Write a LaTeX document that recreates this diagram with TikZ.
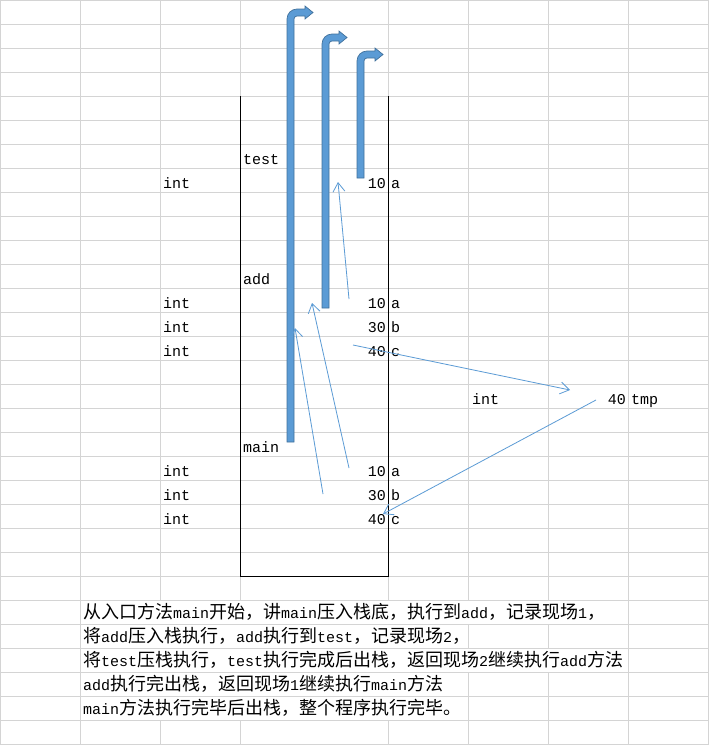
\documentclass[tikz,border=0pt]{standalone}
\usepackage{fontspec}
\setmainfont{Liberation Mono}
\newfontfamily\cjk{Noto Sans CJK SC}
\usetikzlibrary{arrows.meta}
\definecolor{gridc}{HTML}{D4D4D4}
\definecolor{bfill}{HTML}{5B9BD5}
\definecolor{bline}{HTML}{41719C}
\newcommand\bentup[5]{% L B T HB HT
  \filldraw[bent] (#1,#2) -- (#1,{#3+10}) .. controls (#1,{#3+4.5}) and ({#1+4.5},#3) .. ({#1+10},#3)
    -- (#4,#3) -- (#4,{#3-3}) -- (#5,{#3+3.5}) -- (#4,{#3+10}) -- (#4,{#3+7})
    -- ({#1+10},{#3+7}) .. controls ({#1+8.35},{#3+7}) and ({#1+7},{#3+8.35}) .. ({#1+7},{#3+10})
    -- ({#1+7},#2) -- cycle;}
\begin{document}
\begin{tikzpicture}[x=1pt,y=-1pt,
  gridl/.style={draw=gridc,line width=0.8pt},
  bent/.style={fill=bfill,draw=bline,line width=0.7pt},
  thin/.style={draw=bfill,line width=0.8pt,-{Straight Barb[length=9pt,width=12pt]}},
  lbl/.style={inner sep=0pt,anchor=base west,font=\fontsize{15}{15}\selectfont},
  num/.style={inner sep=0pt,anchor=base east,font=\fontsize{15}{15}\selectfont},
  cn/.style={inner sep=0pt,anchor=base west,font=\fontsize{15}{15}\selectfont}]
\useasboundingbox (0,0) rectangle (709,745);
\fill[white] (0,0) rectangle (709,745);
% grid
\foreach \y in {0,24,...,744} \draw[gridl] (0,\y) -- (709,\y);
\foreach \x in {0,80,628,708} \draw[gridl] (\x,0) -- (\x,745);
\foreach \x in {160,240,388} {\draw[gridl] (\x,0) -- (\x,600); \draw[gridl] (\x,720) -- (\x,745);}
\foreach \x in {468,548} {\draw[gridl] (\x,0) -- (\x,600); \draw[gridl] (\x,624) -- (\x,648); \draw[gridl] (\x,672) -- (\x,745);}
% stack box
\draw[black,line width=1pt] (240,96) -- (240,576) -- (388,576) -- (388,96);
% labels
\node[lbl] (test) at (243,164) {test};
\node[lbl] (i1) at (163,188) {int};
\node[num] (n1) at (386,188) {10};
\node[lbl] (v1) at (391,188) {a};
\node[lbl] (add) at (243,284) {add};
\node[lbl] (i2) at (163,308) {int};
\node[num] (n2) at (386,308) {10};
\node[lbl] (v2) at (391,308) {a};
\node[lbl] (i3) at (163,332) {int};
\node[num] (n3) at (386,332) {30};
\node[lbl] (v3) at (391,332) {b};
\node[lbl] (i4) at (163,356) {int};
\node[num] (n4) at (386,356) {40};
\node[lbl] (v4) at (391,356) {c};
\node[lbl] (it) at (472,404) {int};
\node[num] (nt) at (626,404) {40};
\node[lbl] (vt) at (631,404) {tmp};
\node[lbl] (main) at (243,452) {main};
\node[lbl] (i5) at (163,476) {int};
\node[num] (n5) at (386,476) {10};
\node[lbl] (v5) at (391,476) {a};
\node[lbl] (i6) at (163,500) {int};
\node[num] (n6) at (386,500) {30};
\node[lbl] (v6) at (391,500) {b};
\node[lbl] (i7) at (163,524) {int};
\node[num] (n7) at (386,524) {40};
\node[lbl] (v7) at (391,524) {c};
% bent arrows
\bentup{287}{442}{9}{305}{313}
\bentup{322}{308}{34}{339}{347}
\bentup{357}{178}{51}{375}{383}
% thin arrows
\coordinate (s1) at (349,299); \coordinate (e1) at (338,182);
\coordinate (s2) at (349,468); \coordinate (e2) at (312,303);
\coordinate (s3) at (323,494); \coordinate (e3) at (295,328);
\coordinate (s4) at (353,345); \coordinate (e4) at (570,390);
\coordinate (s5) at (596,400); \coordinate (e5) at (383,514);
\draw[thin] (s1) -- (e1);
\draw[thin] (s2) -- (e2);
\draw[thin] (s3) -- (e3);
\draw[thin] (s4) -- (e4);
\draw[thin] (s5) -- (e5);
% description
\newcommand\zh[1]{{\cjk\fontsize{18}{18}\selectfont #1}}
\node[cn] (t1) at (83,618) {\zh{从入口方法}main\zh{开始，讲}main\zh{压入栈底，执行到}add\zh{，记录现场}1\zh{，}};
\node[cn] (t2) at (83,642) {\zh{将}add\zh{压入栈执行，}add\zh{执行到}test\zh{，记录现场}2\zh{，}};
\node[cn] (t3) at (83,666) {\zh{将}test\zh{压栈执行，}test\zh{执行完成后出栈，返回现场}2\zh{继续执行}add\zh{方法}};
\node[cn] (t4) at (83,690) {add\zh{执行完出栈，返回现场}1\zh{继续执行}main\zh{方法}};
\node[cn] (t5) at (83,714) {main\zh{方法执行完毕后出栈，整个程序执行完毕。}};
\end{tikzpicture}
\end{document}
